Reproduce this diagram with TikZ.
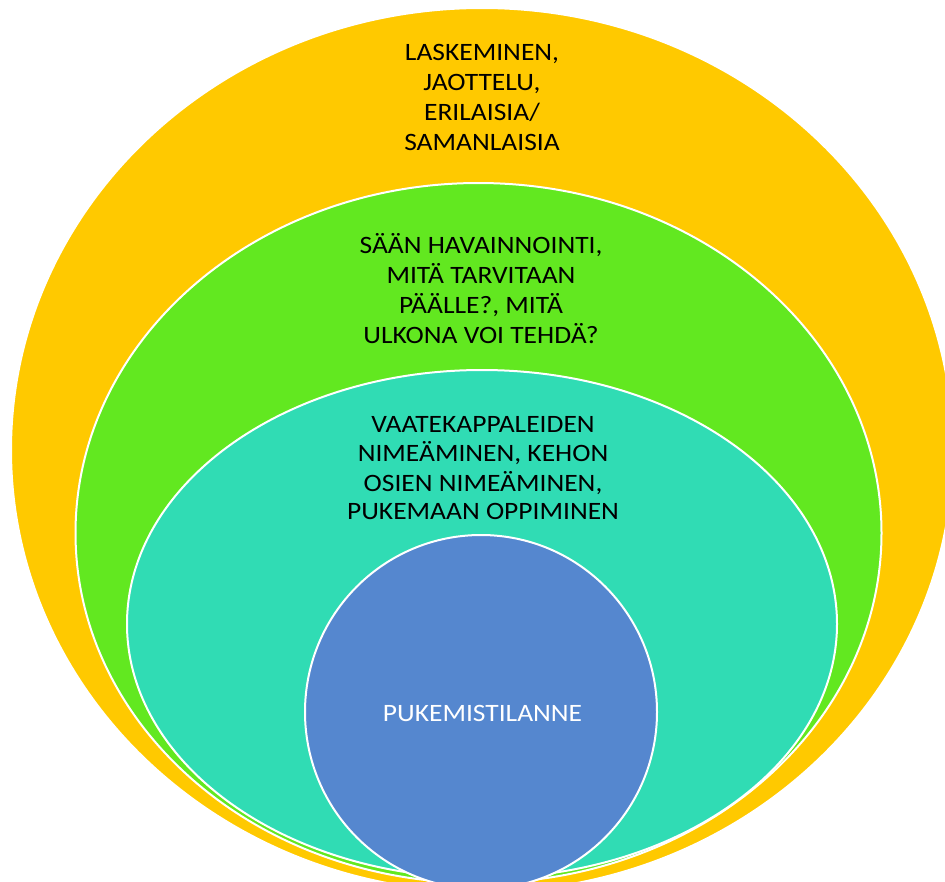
\documentclass[tikz,border=0pt]{standalone}
\usepackage{fontspec}
\setmainfont{Carlito}[FakeStretch=1.1]
\definecolor{cyellow}{HTML}{FFC900}
\definecolor{cgreen}{HTML}{62E820}
\definecolor{cteal}{HTML}{30DCB4}
\definecolor{cblue}{HTML}{5587CF}
\tikzset{
  ring/.style={draw=white, line width=2pt},
  label/.style={inner sep=0pt, align=center, anchor=north, text=black,
    font=\fontsize{25}{30}\selectfont},
}
\begin{document}
\begin{tikzpicture}[x=1pt, y=-1pt]
\useasboundingbox (0,0) rectangle (945,881);
\clip (0,0) rectangle (945,881);
\fill[white] (0,0) rectangle (945,881);
\draw[ring, fill=cyellow] (482,450) ellipse [x radius=471pt, y radius=442pt];
\draw[ring, fill=cgreen] (478.5,533) ellipse [x radius=403pt, y radius=350pt];
\draw[ring, fill=cteal] (482,624) ellipse [x radius=355pt, y radius=254pt];
\draw[ring, fill=cblue] (481,712) ellipse [x radius=176pt, y radius=177pt];
\node[label] (t1) at (482,39) {\strut LASKEMINEN,\\\strut JAOTTELU,\\\strut ERILAISIA/\\\strut SAMANLAISIA};
\node[label] (t2) at (481,232) {\strut SÄÄN HAVAINNOINTI,\\\strut MITÄ TARVITAAN\\\strut PÄÄLLE?, MITÄ\\\strut ULKONA VOI TEHDÄ?};
\node[label, font=\fontsize{25}{28}\selectfont] (t3) at (483,412.4) {\strut VAATEKAPPALEIDEN\\\strut NIMEÄMINEN, KEHON\\\strut OSIEN NIMEÄMINEN,\\\strut PUKEMAAN OPPIMINEN};
\node[label, text=white] (t4) at (482.5,700) {\strut PUKEMISTILANNE};
\end{tikzpicture}
\end{document}
